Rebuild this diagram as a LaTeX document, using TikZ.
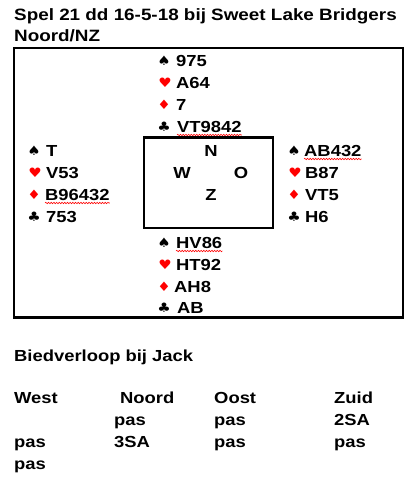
\documentclass[tikz,border=0pt]{standalone}
\usepackage{fontspec}
\setmainfont[FakeStretch=1.15]{Liberation Sans}
\newfontfamily\suitfont[FakeStretch=1.15]{DejaVu Sans}
\usetikzlibrary{decorations.pathmorphing}

\newcommand{\schoppen}{{\suitfont ♠}}
\newcommand{\harten}{{\color{red}\suitfont ♥}}
\newcommand{\ruiten}{{\color{red}\suitfont ♦}}
\newcommand{\klaveren}{{\suitfont ♣}}

\begin{document}
\begin{tikzpicture}[x=1pt, y=-1pt,
  tekst/.style={anchor=base west, inner sep=0pt, font=\bfseries\fontsize{16}{19}\selectfont},
  kop/.style={anchor=base west, inner sep=0pt, font=\bfseries\fontsize{16.4}{19}\selectfont},
  kleur/.style={anchor=center, inner sep=0pt, font=\fontsize{13}{15}\selectfont},
  wind/.style={anchor=base, inner sep=0pt, font=\bfseries\fontsize{16}{19}\selectfont},
  golf/.style={red, line width=0.6pt, decorate, decoration={snake, amplitude=0.7pt, segment length=2.7pt}}]

  \useasboundingbox (0, 0) rectangle (414, 480);

  % kop
  \node[kop] (titel) at (14, 20.7) {Spel 21 dd 16-5-18 bij Sweet Lake Bridgers};
  \node[kop] (gever) at (14, 41.5) {Noord/NZ};

  % tafel
  \draw[line width=2.8pt] (14, 48) rectangle (403, 317.5);
  \draw[line width=2.6pt] (144, 137.5) rectangle (273, 228);
  \node[wind] (n) at (211, 156.5) {N};
  \node[wind] (w) at (182, 178) {W};
  \node[wind] (o) at (241, 178) {O};
  \node[wind] (z) at (211, 200.5) {Z};

  % noord
  \node[kleur] (nsk) at (164, 60.5) {\schoppen};
  \node[kleur] (nhk) at (165, 82.5) {\harten};
  \node[kleur] (nrk) at (164, 104.5) {\ruiten};
  \node[kleur] (nkk) at (164, 126.5) {\klaveren};
  \node[tekst] (ns) at (176, 66) {975};
  \node[tekst] (nh) at (176, 88) {A64};
  \node[tekst] (nr) at (176, 110) {7};
  \node[tekst] (nk) at (177, 132) {VT9842};

  % west
  \node[kleur] (wsk) at (34, 150.5) {\schoppen};
  \node[kleur] (whk) at (35, 172.5) {\harten};
  \node[kleur] (wrk) at (34, 194.5) {\ruiten};
  \node[kleur] (wkk) at (34, 216.5) {\klaveren};
  \node[tekst] (ws) at (46, 156) {T};
  \node[tekst] (wh) at (46, 178) {V53};
  \node[tekst] (wr) at (45, 200) {B96432};
  \node[tekst] (wk) at (46, 222) {753};

  % oost
  \node[kleur] (osk) at (294, 150.5) {\schoppen};
  \node[kleur] (ohk) at (295, 172.5) {\harten};
  \node[kleur] (ork) at (294, 194.5) {\ruiten};
  \node[kleur] (okk) at (294, 216.5) {\klaveren};
  \node[tekst] (os) at (304, 156) {AB432};
  \node[tekst] (oh) at (305, 178) {B87};
  \node[tekst] (or) at (305, 200) {VT5};
  \node[tekst] (ok) at (305, 222) {H6};

  % zuid
  \node[kleur] (zsk) at (164, 242.5) {\schoppen};
  \node[kleur] (zhk) at (165, 264.5) {\harten};
  \node[kleur] (zrk) at (164, 286.5) {\ruiten};
  \node[kleur] (zkk) at (164, 307.5) {\klaveren};
  \node[tekst] (zs) at (176, 248) {HV86};
  \node[tekst] (zh) at (176, 270) {HT92};
  \node[tekst] (zr) at (174, 292) {AH8};
  \node[tekst] (zk) at (177, 313) {AB};

  % kronkels
  \draw[golf] ([yshift=-3pt]nk.base west) -- ([yshift=-3pt]nk.base east);
  \draw[golf] ([yshift=-3pt]wr.base west) -- ([yshift=-3pt]wr.base east);
  \draw[golf] ([yshift=-3pt]os.base west) -- ([yshift=-3pt]os.base east);
  \draw[golf] ([yshift=-3pt]zs.base west) -- ([yshift=-3pt]zs.base east);

  % biedverloop
  \node[tekst] (bied) at (14, 361) {Biedverloop bij Jack};
  \node[tekst] (west) at (14, 403.5) {West};
  \node[tekst] (noord) at (120, 403.5) {Noord};
  \node[tekst] (oost) at (214, 403.5) {Oost};
  \node[tekst] (zuid) at (334, 403.5) {Zuid};
  \node[tekst] (b2) at (114, 425.5) {pas};
  \node[tekst] (b3) at (214, 425.5) {pas};
  \node[tekst] (b4) at (334, 425.5) {2SA};
  \node[tekst] (b5) at (14, 447.5) {pas};
  \node[tekst] (b6) at (114, 447.5) {3SA};
  \node[tekst] (b7) at (214, 447.5) {pas};
  \node[tekst] (b8) at (334, 447.5) {pas};
  \node[tekst] (b9) at (14, 469) {pas};

\end{tikzpicture}
\end{document}
